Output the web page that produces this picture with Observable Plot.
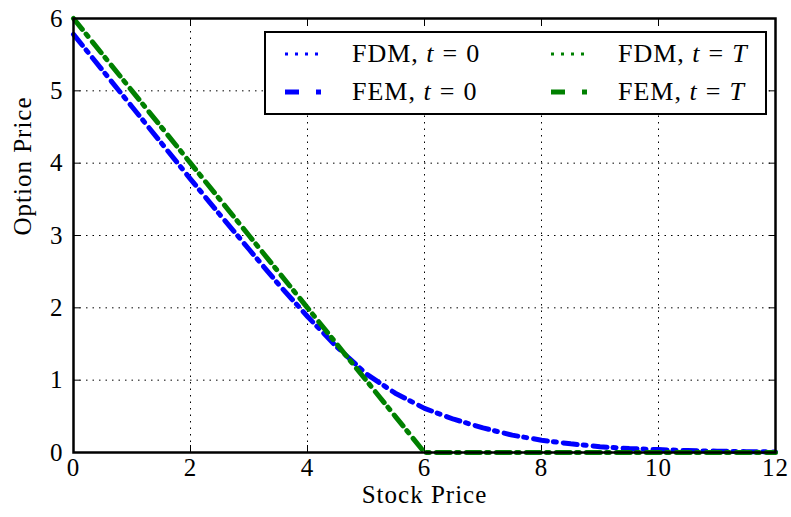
<!DOCTYPE html>
<html>
<head>
<meta charset="utf-8">
<script src="https://cdn.jsdelivr.net/npm/d3@7"></script>
<script src="https://cdn.jsdelivr.net/npm/@observablehq/plot@0.6"></script>
<style>
  html, body { margin: 0; padding: 0; background: #fff; }
  #wrap { position: relative; width: 791px; height: 517px; font-family: "Liberation Serif", serif; }
  #wrap svg text { letter-spacing: 1px; }
  .legend { position: absolute; left: 264px; top: 31px; width: 499px; height: 80px;
            border: 2px solid #000; background: #fff; box-sizing: content-box; }
  .item { position: absolute; height: 30px; display: flex; align-items: center;
          font-size: 26px; color: #000; white-space: nowrap; letter-spacing: 1px; }
  .item svg { display: block; margin-right: 29px; }
  .eq { margin: 0 8px; }
</style>
</head>
<body>
<div id="wrap"></div>
<script>
// Stock price grid on which both methods were evaluated
const stockPrice = [0, 0.5, 1, 1.5, 2, 2.5, 3, 3.5, 4, 4.5, 5, 5.5, 6,
                    6.5, 7, 7.5, 8, 8.5, 9, 9.5, 10, 10.5, 11, 11.5, 12];

// Option price today (t = 0)
const fdmT0 = [5.78, 5.28, 4.78, 4.28, 3.78, 3.29, 2.81, 2.33, 1.88, 1.46, 1.09, 0.82, 0.61,
               0.46, 0.34, 0.24, 0.17, 0.12, 0.08, 0.055, 0.04, 0.027, 0.018, 0.012, 0.008];
const femT0 = [5.78, 5.28, 4.78, 4.28, 3.78, 3.29, 2.81, 2.33, 1.88, 1.46, 1.09, 0.82, 0.61,
               0.46, 0.34, 0.24, 0.17, 0.12, 0.08, 0.055, 0.04, 0.027, 0.018, 0.012, 0.008];

// Option price at expiry (t = T): the put payoff
const fdmTT = [6, 5.5, 5, 4.5, 4, 3.5, 3, 2.5, 2, 1.5, 1, 0.5, 0,
               0, 0, 0, 0, 0, 0, 0, 0, 0, 0, 0, 0];
const femTT = [6, 5.5, 5, 4.5, 4, 3.5, 3, 2.5, 2, 1.5, 1, 0.5, 0,
               0, 0, 0, 0, 0, 0, 0, 0, 0, 0, 0, 0];

const xTicks = [0, 2, 4, 6, 8, 10, 12];
const yTicks = [0, 1, 2, 3, 4, 5, 6];

const BLUE = "#0000ff", GREEN = "#008000";
// dotted period 10 divides the dash-dot period 30, so the dots sit under the dashes
const DOTTED = "3,7";
const DASHDOT = "14,6,3,7";

const series = (values) => stockPrice.map((s, i) => ({s, v: values[i]}));

const dotted = (values, color) => Plot.line(series(values), {
  x: "s", y: "v", stroke: color, strokeWidth: 2.5, strokeDasharray: DOTTED
});
const dashDot = (values, color) => Plot.line(series(values), {
  x: "s", y: "v", stroke: color, strokeWidth: 5, strokeDasharray: DASHDOT
});

const chart = Plot.plot({
  width: 791,
  height: 517,
  marginLeft: 73,
  marginRight: 16,
  marginTop: 18,
  marginBottom: 65,
  style: {fontFamily: "Liberation Serif, serif", fontSize: "25px", background: "#fff", color: "#000", overflow: "visible"},
  x: {domain: [0, 12]},
  y: {domain: [0, 6]},
  marks: [
    Plot.gridX(xTicks, {stroke: "#000", strokeOpacity: 1, strokeWidth: 1, strokeDasharray: "1.5,5"}),
    Plot.gridY(yTicks, {stroke: "#000", strokeOpacity: 1, strokeWidth: 1, strokeDasharray: "1.5,5"}),
    Plot.axisX(xTicks, {anchor: "bottom", tickSize: -7, tickPadding: 13, label: null, fontSize: 25, tickFormat: d3.format("d")}),
    Plot.axisX(xTicks, {anchor: "top", tickSize: -7, tickFormat: () => "", label: null}),
    Plot.axisY(yTicks, {anchor: "left", tickSize: -7, tickPadding: 17, label: null, fontSize: 25, tickFormat: d3.format("d")}),
    Plot.axisY(yTicks, {anchor: "right", tickSize: -7, tickFormat: () => "", label: null}),
    dotted(fdmT0, BLUE),
    dashDot(femT0, BLUE),
    dotted(fdmTT, GREEN),
    dashDot(femTT, GREEN),
    Plot.frame({stroke: "#000", strokeWidth: 2.5}),
    Plot.text(["Stock Price"], {frameAnchor: "bottom", dy: 50, fontSize: 25, fill: "#000"}),
    Plot.text(["Option Price"], {frameAnchor: "left", dx: -51, rotate: -90, fontSize: 25, fill: "#000"})
  ]
});

const wrap = document.getElementById("wrap");
wrap.appendChild(chart);

// Legend box inside the upper right of the plot
const legendItems = [
  {method: "FDM", t: "0", color: BLUE, dash: "3,7", width: 3, left: 19, top: 6},
  {method: "FEM", t: "0", color: BLUE, dash: "14,17,5,20", width: 5, left: 19, top: 44},
  {method: "FDM", t: "T", color: GREEN, dash: "3,7", width: 3, left: 285, top: 6},
  {method: "FEM", t: "T", color: GREEN, dash: "14,17,5,20", width: 5, left: 285, top: 44}
];
const legend = document.createElement("div");
legend.className = "legend";
for (const it of legendItems) {
  const div = document.createElement("div");
  div.className = "item";
  div.style.left = it.left + "px";
  div.style.top = it.top + "px";
  div.innerHTML =
    `<svg width="38" height="10"><line x1="0" y1="5" x2="38" y2="5" stroke="${it.color}" stroke-width="${it.width}" stroke-dasharray="${it.dash}"/></svg>` +
    `<span>${it.method}, <i>t</i><span class="eq">=</span>${it.t === "T" ? "<i>T</i>" : it.t}</span>`;
  legend.appendChild(div);
}
wrap.appendChild(legend);
</script>
</body>
</html>
